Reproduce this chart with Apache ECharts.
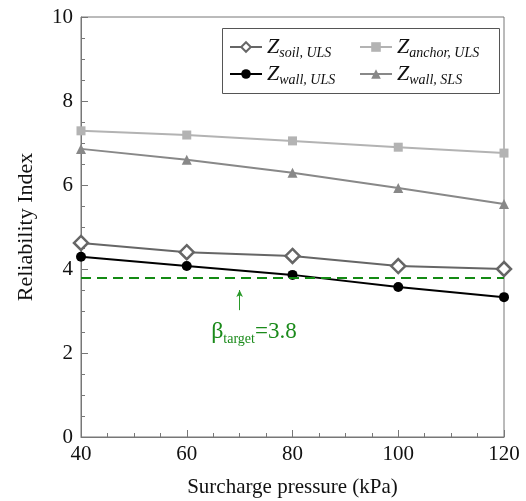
<!DOCTYPE html>
<html><head><meta charset="utf-8">
<script src="https://cdn.jsdelivr.net/npm/echarts@6/dist/echarts.min.js"></script>
<style>html,body{margin:0;padding:0;background:#fff}#c{width:526px;height:501px}</style>
</head><body><div id="c"></div>
<script>
const pressures = [40, 60, 80, 100, 120];
const soilULS   = [4.62, 4.40, 4.31, 4.07, 4.00];
const anchorULS = [7.29, 7.19, 7.05, 6.90, 6.76];
const wallULS   = [4.29, 4.07, 3.86, 3.57, 3.33];
const wallSLS   = [6.86, 6.60, 6.29, 5.93, 5.55];
const betaTarget = 3.8;
const xTicks = [40, 60, 80, 100, 120];
const yTicks = [0, 2, 4, 6, 8, 10];

const F = 'Liberation Serif, Times New Roman, serif';
const pair = (ys) => pressures.map((x, i) => [x, ys[i]]);
const names = {
  soil: '{z|Z}{s|soil, ULS}',
  anchor: '{z|Z}{s|anchor, ULS}',
  wallU: '{z|Z}{s|wall, ULS}',
  wallS: '{z|Z}{s|wall, SLS}'
};
const rich = {
  z: {fontFamily: F, fontStyle: 'italic', fontSize: 22, color: '#111'},
  s: {fontFamily: F, fontStyle: 'italic', fontSize: 14, color: '#111', padding: [12, 0, 0, 0]}
};
const chart = echarts.init(document.getElementById('c'));
chart.setOption({
  animation: false,
  backgroundColor: '#fff',
  grid: {left: 81, right: 22, top: 17, bottom: 64, show: true, borderColor: '#777', borderWidth: 1,
         containLabel: false, outerBoundsMode: 'none'},
  xAxis: {
    type: 'value', min: 40, max: 120, interval: 20,
    name: 'Surcharge pressure (kPa)', nameLocation: 'middle', nameGap: 40,
    nameTextStyle: {fontFamily: F, fontSize: 21, color: '#111'},
    axisLine: {lineStyle: {color: '#777'}},
    axisTick: {inside: true, length: 7, lineStyle: {color: '#777'}},
    minorTick: {show: true, splitNumber: 4, length: 4, lineStyle: {color: '#777'}},
    splitLine: {show: false},
    axisLabel: {fontFamily: F, fontSize: 21, color: '#111', margin: 7,
      formatter: v => xTicks.includes(v) ? String(v) : ''}
  },
  yAxis: {
    type: 'value', min: 0, max: 10, interval: 2,
    name: 'Reliability Index', nameLocation: 'middle', nameGap: 44,
    nameTextStyle: {fontFamily: F, fontSize: 22, color: '#111'},
    axisLine: {show: true, lineStyle: {color: '#777'}},
    axisTick: {show: true, inside: true, length: 7, lineStyle: {color: '#777'}},
    minorTick: {show: true, splitNumber: 4, length: 4, lineStyle: {color: '#777'}},
    splitLine: {show: false},
    axisLabel: {fontFamily: F, fontSize: 21, color: '#111', margin: 8,
      formatter: v => yTicks.includes(v) ? String(v) : ''}
  },
  legend: [
    {data: [names.soil, names.wallU], orient: 'vertical', left: 224, top: 31, itemGap: 3,
     itemWidth: 32, itemHeight: 12, textStyle: {rich: rich}},
    {data: [names.anchor, names.wallS], orient: 'vertical', left: 354, top: 31, itemGap: 3,
     itemWidth: 32, itemHeight: 12, textStyle: {rich: rich}}
  ],
  graphic: [{type: 'rect', left: 220, top: 26, shape: {width: 277, height: 65},
    style: {fill: 'none', stroke: '#555', lineWidth: 1}, z: 10}],
  series: [
    {name: names.anchor, type: 'line', data: pair(anchorULS), symbol: 'rect', symbolSize: 9,
     lineStyle: {color: '#b3b3b3', width: 2}, itemStyle: {color: '#b3b3b3'}},
    {name: names.wallS, type: 'line', data: pair(wallSLS), symbol: 'triangle', symbolSize: 10,
     lineStyle: {color: '#888', width: 2}, itemStyle: {color: '#888'}},
    {name: names.soil, type: 'line', data: pair(soilULS), symbol: 'diamond', symbolSize: 14,
     lineStyle: {color: '#666', width: 2}, itemStyle: {color: '#fff', borderColor: '#666', borderWidth: 2.5}},
    {name: names.wallU, type: 'line', data: pair(wallULS), symbol: 'circle', symbolSize: 10,
     lineStyle: {color: '#000', width: 2}, itemStyle: {color: '#000'}},
    {name: 'beta', type: 'line', data: [], silent: true,
     markLine: {silent: true, symbol: 'none', label: {show: false},
       lineStyle: {color: '#138a13', type: [10, 6], width: 2},
       data: [{yAxis: betaTarget}]}},
    {name: 'arrow', type: 'line', data: [], silent: true,
     markLine: {silent: true, symbol: ['none', 'arrow'], symbolSize: [5, 7], label: {show: false},
       lineStyle: {color: '#2a9a2a', type: 'solid', width: 1},
       data: [[{coord: [70, 3.02]}, {coord: [70, 3.5]}]]},
     markPoint: {symbol: 'circle', symbolSize: 0,
       label: {show: true, position: 'inside', formatter: '{b|β}{t|target}{v|=3.8}',
         rich: {
           b: {fontFamily: F, fontSize: 24, color: '#1a8a1a'},
           t: {fontFamily: F, fontSize: 14, color: '#1a8a1a', padding: [14, 0, 0, 0]},
           v: {fontFamily: F, fontSize: 23, color: '#1a8a1a'}
         }},
       data: [{coord: [72.7, 2.5]}]}}
  ]
});
</script></body></html>
